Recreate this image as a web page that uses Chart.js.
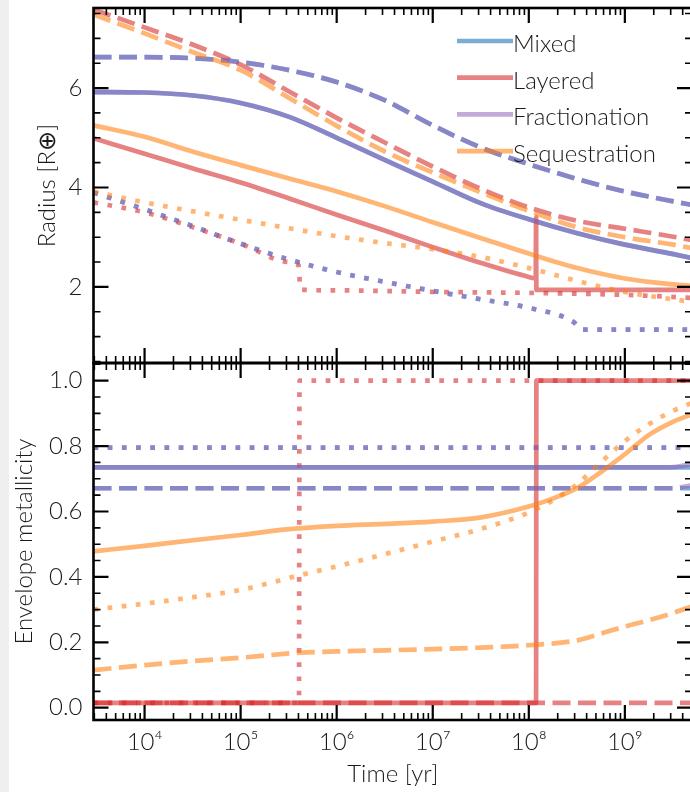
<!DOCTYPE html>
<html><head><meta charset="utf-8">
<script src="https://cdn.jsdelivr.net/npm/chart.js@4.4.1/dist/chart.umd.min.js"></script>
<style>
html,body{margin:0;padding:0;background:#fff;overflow:hidden;width:690px;height:792px;}
#strip{position:absolute;left:0;top:0;width:9px;height:792px;background:#efefef;}
#top{position:absolute;left:0;top:0;width:700px;height:372px;}
#bot{position:absolute;left:0;top:354px;width:700px;height:438px;}
</style></head><body>
<div id="strip"></div>
<canvas id="top" width="700" height="372"></canvas>
<canvas id="bot" width="700" height="438"></canvas>
<script>
// ---------- categories / legend ----------
const models = ['Mixed', 'Layered', 'Fractionation', 'Sequestration'];
const modelColors = ['rgba(31,119,180,0.6)', 'rgba(214,39,40,0.58)', 'rgba(148,103,189,0.56)', 'rgba(255,127,14,0.58)'];
const modelOrder = [4, 3, 2, 1];   // Sequestration on top, Mixed at the back

// ---------- axis ticks ----------
const timeTicks = [1e4, 1e5, 1e6, 1e7, 1e8, 1e9];
const timeTickLabels = ['10\u2074', '10\u2075', '10\u2076', '10\u2077', '10\u2078', '10\u2079'];
const radiusTicks = [2, 4, 6];
const radiusMinorTicks = [0.5, 1, 1.5, 2.5, 3, 3.5, 4.5, 5, 5.5, 6.5, 7, 7.5];
const zTicks = [0, 0.2, 0.4, 0.6, 0.8, 1.0];
const zMinorTicks = [0.05, 0.1, 0.15, 0.25, 0.3, 0.35, 0.45, 0.5, 0.55, 0.65, 0.7, 0.75, 0.85, 0.9, 0.95, 1.05];

// ---------- time grid (yr) ----------
const T = [2940, 1e4, 3.2e4, 1e5, 3.2e5, 1e6, 3.2e6, 1e7, 3.2e7, 1e8, 3.2e8, 1e9, 3.2e9, 5e9];

// ---------- Radius [R_earth] ----------
const rMixedSolid   = [5.92, 5.91, 5.85, 5.70, 5.42, 5.00, 4.55, 4.12, 3.68, 3.36, 3.08, 2.85, 2.66, 2.58];
const rMixedDashed  = [6.62, 6.62, 6.60, 6.52, 6.36, 6.12, 5.75, 5.25, 4.80, 4.47, 4.17, 3.92, 3.72, 3.65];
const rMixedDotT    = [2940, 1e4, 3.2e4, 1e5, 3.2e5, 1e6, 3.2e6, 1e7, 3.2e7, 1e8, 2.9e8, 3.6e8, 5e9];
const rMixedDotted  = [3.90, 3.56, 3.22, 2.87, 2.55, 2.30, 2.10, 1.92, 1.75, 1.58, 1.30, 1.14, 1.14];
const rFracSolid    = [5.92, 5.91, 5.85, 5.70, 5.42, 5.00, 4.55, 4.12, 3.68, 3.36, 3.08, 2.85, 2.66, 2.58];
const rFracDashed   = [6.62, 6.62, 6.60, 6.52, 6.36, 6.12, 5.75, 5.25, 4.80, 4.47, 4.17, 3.92, 3.72, 3.65];
const rFracDotted   = [3.90, 3.56, 3.22, 2.87, 2.55, 2.30, 2.10, 1.92, 1.75, 1.58, 1.30, 1.14, 1.14];
const rLayerSolidT  = [2940, 1e4, 3.2e4, 1e5, 3.2e5, 1e6, 3.2e6, 1e7, 3.2e7, 1e8, 1.18e8, 1.19e8, 1.2e8, 5e9];
const rLayerSolid   = [4.99, 4.68, 4.38, 4.10, 3.78, 3.45, 3.13, 2.80, 2.48, 2.20, 2.17, 3.40, 1.94, 1.94];
const rLayerDashed  = [7.58, 7.22, 6.87, 6.47, 5.93, 5.40, 4.90, 4.42, 3.97, 3.60, 3.33, 3.17, 3.01, 2.94];
const rLayerDotT    = [2940, 1e4, 3.2e4, 1e5, 3.2e5, 4.0e5, 4.2e5, 1e6, 1e7, 1e8, 1e9, 5e9];
const rLayerDotted  = [3.70, 3.50, 3.20, 2.87, 2.50, 2.44, 1.95, 1.93, 1.90, 1.88, 1.84, 1.78];
const rSeqSolid     = [5.25, 5.02, 4.72, 4.45, 4.18, 3.92, 3.62, 3.30, 2.98, 2.67, 2.38, 2.17, 2.05, 2.02];
const rSeqDashed    = [7.48, 7.10, 6.72, 6.36, 5.80, 5.24, 4.72, 4.30, 3.90, 3.53, 3.20, 3.00, 2.85, 2.78];
const rSeqDotted    = [3.92, 3.70, 3.52, 3.35, 3.18, 3.02, 2.88, 2.76, 2.60, 2.38, 2.12, 1.90, 1.75, 1.70];

// ---------- Envelope metallicity ----------
const TZ = [2940, 3e9, 5e9];
const zMixedSolid   = [0.735, 0.735, 0.735];
const zMixedDashed  = [0.671, 0.671, 0.671];
const zMixedDotted  = [0.795, 0.795, 0.795];
const zFracSolid    = [0.735, 0.735, 0.745];
const zFracDashed   = [0.671, 0.671, 0.68];
const zFracDotted   = [0.795, 0.795, 0.795];
const zLayerSolidT  = [2940, 1.19e8, 1.2e8, 5e9];
const zLayerSolid   = [0.015, 0.015, 1.0, 1.0];
const zLayerDashedT = [2940, 5e9];
const zLayerDashed  = [0.015, 0.015];
const zLayerDotT    = [2940, 4.05e5, 4.1e5, 5e9];
const zLayerDotted  = [0.015, 0.015, 1.0, 1.0];
const zSeqSolidT    = [2940, 1e4, 3.2e4, 1e5, 3.2e5, 1e6, 3.2e6, 1e7, 3.2e7, 1e8, 1.8e8, 3.2e8, 5.6e8, 1e9, 1.8e9, 3.2e9, 5e9];
const zSeqSolid     = [0.478, 0.495, 0.512, 0.528, 0.546, 0.556, 0.562, 0.569, 0.582, 0.615, 0.640, 0.672, 0.720, 0.775, 0.835, 0.875, 0.897];
const zSeqDotT      = [2940, 1e4, 3.2e4, 1e5, 4.1e5, 1e6, 3.2e6, 1e7, 3.2e7, 1e8, 1.8e8, 3.2e8, 5.6e8, 1e9, 1.8e9, 3.2e9, 5e9];
const zSeqDotted    = [0.300, 0.318, 0.338, 0.360, 0.405, 0.432, 0.470, 0.508, 0.547, 0.597, 0.635, 0.684, 0.750, 0.815, 0.868, 0.908, 0.932];
const zSeqDashT     = [2940, 1e4, 3.2e4, 1e5, 4.1e5, 1e6, 1e7, 3.2e7, 1e8, 3.2e8, 6.5e8, 1e9, 1.8e9, 3.2e9, 5e9];
const zSeqDashed    = [0.115, 0.130, 0.143, 0.153, 0.168, 0.172, 0.179, 0.184, 0.191, 0.206, 0.232, 0.248, 0.268, 0.290, 0.310];

// ---------- helpers ----------
const FONT = "Lato, 'Open Sans', 'DejaVu Sans', sans-serif";
const DASH = [18, 7.5];
const DOT = [4.7, 9.5];
function pts(t, v) { return v.map((y, i) => ({x: t[i], y})); }
function ds(t, v, model, dash) {
  return {
    label: models[model], data: pts(t, v), borderColor: modelColors[model], order: modelOrder[model],
    borderDash: dash || [], borderWidth: 4.7, pointRadius: 0, fill: false,
    cubicInterpolationMode: 'monotone', borderCapStyle: 'butt'
  };
}
function noPad(s) { s.paddingTop = 0; s.paddingBottom = 0; s.paddingLeft = 0; s.paddingRight = 0; }

const frame = {
  id: 'frame',
  afterDatasetsDraw(chart, args, opts) {
    const {ctx, chartArea: a, scales} = chart;
    const xs = scales.x, ys = scales.y;
    ctx.save();
    ctx.strokeStyle = '#000';
    const minorX = [];
    for (let e = 3; e <= 9; e++) for (let k = 2; k <= 9; k++) minorX.push(k * Math.pow(10, e));
    function xt(vals, len, w) {
      ctx.lineWidth = w; ctx.beginPath();
      for (const v of vals) {
        const p = xs.getPixelForValue(v);
        if (p < a.left || p > a.right) continue;
        ctx.moveTo(p, a.top); ctx.lineTo(p, a.top + len);
        ctx.moveTo(p, a.bottom); ctx.lineTo(p, a.bottom - len);
      }
      ctx.stroke();
    }
    function yt(vals, len, w) {
      ctx.lineWidth = w; ctx.beginPath();
      for (const v of vals) {
        const p = ys.getPixelForValue(v);
        if (p < a.top || p > a.bottom) continue;
        ctx.moveTo(a.left, p); ctx.lineTo(a.left + len, p);
        ctx.moveTo(a.right, p); ctx.lineTo(a.right - len, p);
      }
      ctx.stroke();
    }
    xt(timeTicks, 15, 2.2);
    xt(minorX, 7, 1.6);
    yt(opts.major, 15, 2.2);
    yt(opts.minor, 7, 1.6);
    ctx.lineWidth = 2.6;
    ctx.strokeRect(a.left, a.top, a.right - a.left, a.bottom - a.top);

    if (opts.legend) {
      const x0 = a.right - 235, y0 = a.top + 33, dy = 36.7;
      ctx.font = '300 24px ' + FONT;
      ctx.textBaseline = 'alphabetic';
      ctx.textAlign = 'left';
      models.forEach((m, i) => {
        const y = y0 + i * dy;
        ctx.strokeStyle = modelColors[i];
        ctx.lineWidth = 4.7;
        ctx.setLineDash([]);
        ctx.beginPath(); ctx.moveTo(x0, y); ctx.lineTo(x0 + 56, y); ctx.stroke();
        ctx.fillStyle = '#1a1a1a';
        ctx.fillText(m, x0 + 56, y + 11);
      });
    }
    ctx.restore();
  }
};

const tickFont = {family: FONT, size: 24, weight: 300};

// ---------- top panel: radius ----------
new Chart(document.getElementById('top'), {
  type: 'line',
  data: {datasets: [
    ds(T, rMixedSolid, 0), ds(T, rMixedDashed, 0, DASH), ds(rMixedDotT, rMixedDotted, 0, DOT),
    ds(rLayerSolidT, rLayerSolid, 1), ds(T, rLayerDashed, 1, DASH), ds(rLayerDotT, rLayerDotted, 1, DOT),
    ds(T, rFracSolid, 2), ds(T, rFracDashed, 2, DASH), ds(rMixedDotT, rFracDotted, 2, DOT),
    ds(T, rSeqSolid, 3), ds(T, rSeqDashed, 3, DASH), ds(T, rSeqDotted, 3, DOT)
  ]},
  options: {
    responsive: false, animation: false, parsing: false, normalized: true,
    layout: {padding: {top: 8, right: 8, bottom: 9, left: 0}},
    plugins: {legend: {display: false}, tooltip: {enabled: false},
      frame: {major: radiusTicks, minor: radiusMinorTicks, legend: true}},
    scales: {
      x: {type: 'logarithmic', min: 2940, max: 5e9, display: false, afterFit: noPad},
      y: {type: 'linear', min: 0.47, max: 7.61, position: 'left',
        afterFit(s) { s.width = 93.5; noPad(s); },
        afterBuildTicks(s) { s.ticks = radiusTicks.map(v => ({value: v})); },
        grid: {display: false, drawTicks: false}, border: {display: false},
        ticks: {padding: 11, color: '#1a1a1a', font: tickFont, callback: v => String(v)},
        title: {display: true, text: 'Radius [R\u2295]', color: '#1a1a1a', font: tickFont, padding: {top: 33, bottom: 0}}
      }
    }
  },
  plugins: [frame]
});

// ---------- bottom panel: envelope metallicity ----------
new Chart(document.getElementById('bot'), {
  type: 'line',
  data: {datasets: [
    ds(TZ, zMixedSolid, 0), ds(TZ, zMixedDashed, 0, DASH), ds(TZ, zMixedDotted, 0, DOT),
    ds(zLayerSolidT, zLayerSolid, 1), ds(zLayerDashedT, zLayerDashed, 1, DASH), ds(zLayerDotT, zLayerDotted, 1, DOT),
    ds(TZ, zFracSolid, 2), ds(TZ, zFracDashed, 2, DASH), ds(TZ, zFracDotted, 2, DOT),
    ds(zSeqSolidT, zSeqSolid, 3), ds(zSeqDashT, zSeqDashed, 3, DASH), ds(zSeqDotT, zSeqDotted, 3, DOT)
  ]},
  options: {
    responsive: false, animation: false, parsing: false, normalized: true,
    layout: {padding: {top: 9, right: 8, bottom: 0, left: 0}},
    plugins: {legend: {display: false}, tooltip: {enabled: false},
      frame: {major: zTicks, minor: zMinorTicks, legend: false}},
    scales: {
      x: {type: 'logarithmic', min: 2940, max: 5e9, position: 'bottom',
        afterFit(s) { s.height = 72; noPad(s); },
        afterBuildTicks(s) { s.ticks = timeTicks.map(v => ({value: v})); },
        grid: {display: false, drawTicks: false}, border: {display: false},
        ticks: {padding: 8, color: '#1a1a1a', font: tickFont, autoSkip: false, maxRotation: 0,
          callback: (v, i) => timeTickLabels[i]},
        title: {display: true, text: 'Time [yr]', color: '#1a1a1a', font: tickFont, padding: {top: 0, bottom: 3}}
      },
      y: {type: 'linear', min: -0.0376, max: 1.054, position: 'left',
        afterFit(s) { s.width = 93.5; noPad(s); },
        afterBuildTicks(s) { s.ticks = zTicks.map(v => ({value: v})); },
        grid: {display: false, drawTicks: false}, border: {display: false},
        ticks: {padding: 11, color: '#1a1a1a', font: tickFont, callback: v => v.toFixed(1)},
        title: {display: true, text: 'Envelope metallicity', color: '#1a1a1a', font: tickFont, padding: {top: 10, bottom: 0}}
      }
    }
  },
  plugins: [frame]
});
</script>
</body></html>
